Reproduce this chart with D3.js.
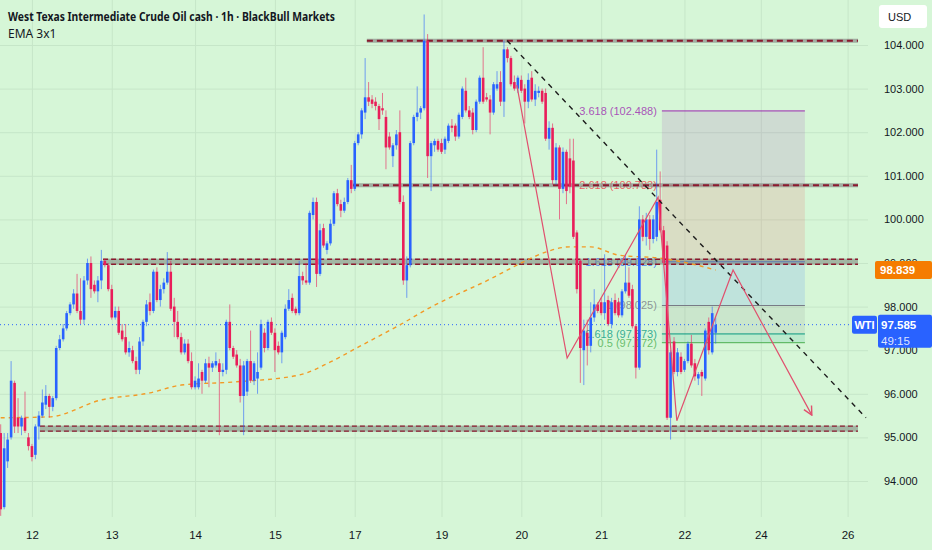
<!DOCTYPE html>
<html>
<head>
<meta charset="utf-8">
<script src="https://cdn.jsdelivr.net/npm/d3@7"></script>
<style>
html, body { margin: 0; padding: 0; background: #d6f6d7; }
svg { display: block; font-family: "Liberation Sans", Arial, sans-serif; }
</style>
</head>
<body>
<svg id="chart"></svg>
<script>
var width = 932;
var height = 550;
var plot = { left: 0, right: 868, top: 0, bottom: 517 };

// hourly candles, [open, high, low, close]
var candles = [
  [95.10,95.30,93.20,93.35],[93.40,95.10,93.35,94.75],[94.45,95.10,94.30,94.95],[95.00,96.75,94.95,96.30],
  [96.25,96.30,95.10,95.25],[95.45,95.90,95.10,95.25],[95.25,95.50,95.05,95.45],[95.45,96.05,95.10,95.15],
  [95.00,95.10,94.70,94.80],[94.80,94.85,94.45,94.55],[94.60,95.30,94.50,95.25],[95.25,95.60,94.95,95.50],
  [95.50,96.10,95.45,95.80],[95.75,96.20,95.65,95.95],[95.95,96.00,95.45,95.70],[95.70,95.95,95.60,95.90],
  [95.90,97.10,95.85,97.05],[97.05,97.35,97.00,97.25],[97.25,97.60,97.20,97.50],[97.50,97.90,97.45,97.85],
  [97.85,98.10,97.80,98.05],[98.05,98.40,97.95,98.30],[98.30,98.75,97.85,97.90],[97.90,98.65,97.60,97.70],
  [97.70,98.70,97.60,98.60],[98.60,99.10,98.50,99.00],[99.00,99.15,98.20,98.40],[98.50,98.60,98.30,98.35],
  [98.35,98.70,98.10,98.60],[98.60,99.30,98.40,99.05],[99.05,99.10,98.90,98.95],[98.95,99.00,98.35,98.40],
  [98.40,98.50,97.70,97.75],[97.75,98.00,97.70,97.90],[97.90,98.00,97.35,97.40],[97.45,97.60,97.20,97.25],
  [97.30,97.60,96.90,96.95],[96.95,97.20,96.85,97.05],[97.00,97.10,96.70,96.75],[96.75,96.85,96.45,96.55],
  [96.55,97.30,96.45,97.20],[97.20,97.70,97.10,97.65],[97.65,98.15,97.55,98.05],[98.10,98.30,97.80,97.90],
  [97.90,98.85,97.85,98.80],[98.80,98.90,98.10,98.15],[98.15,98.50,98.00,98.40],[98.40,98.65,98.30,98.55],
  [98.55,99.25,98.50,98.80],[98.80,99.05,97.90,97.95],[98.00,98.20,97.30,97.65],[97.65,97.90,97.25,97.30],
  [97.30,97.40,96.90,96.95],[96.95,97.25,96.90,97.15],[97.15,97.25,96.70,96.75],[96.75,96.95,96.10,96.15],
  [96.15,96.40,96.10,96.30],[96.15,96.70,96.10,96.35],[96.50,96.55,96.00,96.30],[96.30,96.80,96.25,96.70],
  [96.70,96.85,96.15,96.60],[96.60,96.75,96.50,96.70],[96.65,96.95,96.60,96.75],[96.70,96.80,95.05,96.50],
  [96.50,96.70,96.40,96.55],[96.55,97.70,96.45,97.65],[97.65,98.05,97.00,97.05],[97.05,97.10,96.80,96.85],
  [96.90,97.00,96.60,96.65],[96.65,96.80,95.80,95.95],[95.95,96.75,95.05,96.65],[96.05,96.80,95.95,96.75],
  [96.75,97.45,96.25,96.30],[96.30,96.75,96.20,96.70],[96.35,96.95,96.00,96.50],[96.60,97.70,96.55,97.60],
  [97.40,97.50,96.95,97.05],[97.05,97.70,97.00,97.65],[97.65,97.75,97.35,97.40],[97.40,97.50,96.50,97.00],
  [97.10,97.20,96.90,96.95],[96.95,97.45,96.70,97.40],[97.30,98.05,97.25,97.95],[97.95,98.40,97.90,98.15],
  [98.20,98.30,97.85,97.90],[97.95,98.00,97.80,97.85],[97.85,99.05,97.80,98.70],[98.70,98.80,98.50,98.60],
  [98.60,99.00,98.50,98.55],[98.55,100.20,98.50,100.15],[100.10,100.50,100.00,100.40],[100.40,100.50,98.45,98.75],
  [98.75,99.90,98.70,99.75],[99.80,99.90,99.35,99.40],[99.30,99.50,99.20,99.45],[99.45,100.00,99.40,99.90],
  [99.90,100.65,99.85,100.60],[100.60,100.70,100.30,100.35],[100.35,100.45,100.05,100.20],[100.20,100.50,100.15,100.40],
  [100.40,100.95,100.35,100.90],[100.90,101.25,100.60,100.70],[100.70,101.80,100.65,101.75],[101.75,102.00,101.70,101.95],
  [101.95,102.55,101.85,102.50],[102.45,103.70,102.30,102.80],[102.80,103.15,102.60,102.70],[102.75,102.85,102.55,102.65],
  [102.70,102.80,102.50,102.60],[102.60,102.65,102.05,102.30],[102.55,102.90,102.40,102.50],[102.35,102.50,101.15,101.65],
  [101.90,102.00,101.60,101.65],[101.45,101.75,101.20,101.70],[101.70,102.05,101.60,101.95],[102.00,102.50,100.35,100.40],
  [100.40,100.55,98.50,98.60],[98.60,99.15,98.20,98.95],[98.95,101.80,98.90,101.75],[101.75,102.40,101.70,102.35],
  [102.35,103.05,102.25,102.45],[102.45,102.60,102.30,102.55],[102.55,104.70,102.50,104.10],[104.10,104.25,100.95,101.45],
  [101.45,101.80,100.65,101.75],[101.70,101.85,101.55,101.80],[101.80,101.85,101.55,101.60],[101.75,101.85,101.50,101.55],
  [101.60,101.90,101.50,101.85],[101.80,102.20,101.75,102.15],[102.15,102.30,102.00,102.10],[102.15,102.20,101.80,101.90],
  [101.90,102.45,101.85,102.40],[102.35,103.05,102.30,103.00],[102.95,103.25,102.45,102.50],[102.50,102.60,102.30,102.35],
  [102.45,102.55,101.95,102.05],[102.05,102.75,102.00,102.70],[102.70,103.30,102.65,103.25],[103.25,103.95,102.65,102.70],
  [102.80,102.90,102.70,102.75],[102.75,102.85,101.95,102.45],[102.45,103.15,102.40,103.10],[103.00,103.40,102.95,103.10],
  [103.15,103.40,102.60,102.70],[102.70,104.10,102.35,103.90],[103.90,103.95,103.60,103.70],[103.70,103.75,103.05,103.10],
  [103.15,103.30,102.95,103.00],[103.00,103.30,102.90,103.25],[103.20,103.30,102.90,102.95],[103.00,103.10,102.20,102.70],
  [102.70,103.35,102.55,103.20],[103.25,103.40,102.70,102.75],[102.75,103.10,102.60,102.95],[102.90,103.05,102.80,102.95],
  [102.95,103.00,102.65,102.70],[102.90,103.00,101.80,101.85],[101.85,102.25,101.60,102.10],[102.10,102.20,100.80,100.90],
  [100.90,101.75,100.80,101.65],[101.65,101.70,100.00,100.70],[100.70,101.65,100.60,101.55],[101.55,101.60,100.35,100.65],
  [101.40,101.85,100.60,100.75],[101.35,101.85,99.55,99.60],[99.70,99.75,98.30,98.40],[99.05,99.10,96.25,97.05],
  [97.00,97.70,96.20,97.45],[97.40,97.70,96.65,97.10],[97.10,98.10,96.95,97.75],[97.75,98.40,97.65,98.05],
  [98.05,98.10,97.85,97.90],[98.10,98.20,97.80,97.85],[97.85,99.20,97.70,98.10],[98.15,98.25,97.55,97.60],
  [97.60,98.20,97.50,98.10],[98.15,98.30,97.80,97.85],[98.10,98.20,97.75,97.80],[97.80,98.40,97.75,98.35],
  [98.35,99.20,98.30,98.55],[98.55,98.90,98.20,98.25],[98.40,98.50,97.50,97.55],[97.55,97.60,96.35,96.60],
  [96.60,100.30,96.55,100.00],[100.00,100.10,99.50,99.60],[99.60,100.15,99.40,100.00],[100.00,100.10,99.30,99.55],
  [99.55,100.10,99.45,100.00],[99.60,101.60,99.50,100.40],[100.45,101.10,99.70,99.75],[99.75,99.85,98.95,99.00],
  [99.40,99.50,95.40,95.45],[95.45,97.00,94.95,96.95],[97.20,97.30,96.45,96.50],[96.50,97.05,96.40,96.95],
  [96.85,96.95,96.45,96.50],[96.55,96.80,96.50,96.75],[96.75,97.20,96.70,97.15],[97.15,97.35,96.60,96.65],
  [96.70,96.80,96.30,96.40],[96.35,96.50,96.20,96.45],[96.50,96.55,95.95,96.40],[96.35,97.50,96.30,97.45],
  [97.65,97.75,96.90,97.00],[96.95,98.00,96.90,97.85],[97.40,97.75,97.15,97.585]
];

var priceTicks = [94, 95, 96, 97, 98, 99, 100, 101, 102, 103, 104];
var dayTickBars = [9, 32, 56, 79, 102, 127, 150, 173, 197, 219, 244];
var dayTickLabels = ["12", "13", "14", "15", "17", "19", "20", "21", "22", "24", "26"];

// EMA line, [bar, price]
var emaPoints = [[0,95.45],[14,95.47],[29,95.86],[43,96.02],[52,96.20],[67,96.27],[86,96.43],
  [95,96.73],[103,97.07],[115,97.58],[124,97.99],[141,98.63],[150,99.00],[157,99.25],
  [164,99.37],[170,99.37],[178,99.18],[190,99.11],[199,98.98],[206,98.839]];

// horizontal levels: [price, first bar]
var levelLines = [[104.1, 105.5], [100.783, 101.5]];
var levelBands = [[99.03, 29.5], [95.2, 11.3]];
var levelEndBar = 247;

// fib extension
var fibRatios = [3.618, 2.618, 1.618, 1, 0.618, 0.5];
var fibPrices = [102.488, 100.783, 99.028, 98.025, 97.373, 97.172];
var fibColors = ["#9c27b0", "#f23645", "#2962ff", "#787b86", "#089981", "#4caf50"];
var fibStartBar = 190.5;
var fibEndBar = 231.7;

var trendLine = [[145.9, 104.1], [249.3, 95.45]];
var zigzag = [[148.7,103.08],[163.2,96.82],[189.4,100.51],[194.8,95.38],[211.0,98.84],[233.7,95.51]];

var lastPrice = 97.585;
var emaLast = 98.839;
var countdown = "49:15";

var upColor = "#2962ff";
var downColor = "#e91e5a";

var x = d3.scaleLinear().domain([-0.2, 247]).range([0, 858]);
var y = d3.scaleLinear().domain([93.174, 105.032]).range([plot.bottom, plot.top]);

var svg = d3.select("#chart").attr("width", width).attr("height", height);

svg.append("rect").attr("width", width).attr("height", height).attr("fill", "#d6f6d7");

var defs = svg.append("defs");
defs.append("clipPath").attr("id", "clip")
  .append("rect").attr("x", plot.left).attr("y", plot.top)
  .attr("width", plot.right - plot.left).attr("height", plot.bottom - plot.top);
defs.append("marker").attr("id", "arrow")
  .attr("viewBox", "0 0 10 10").attr("refX", 9).attr("refY", 5)
  .attr("markerWidth", 9).attr("markerHeight", 9).attr("orient", "auto")
  .append("path").attr("d", "M1,1 L9,5 L1,9")
  .attr("fill", "none").attr("stroke", "#e0506e").attr("stroke-width", 1.3);

// grid
svg.append("g")
  .call(d3.axisRight(y).tickValues(priceTicks).tickSize(plot.right).tickFormat(""))
  .call(function(g) { g.select(".domain").remove(); })
  .selectAll("line").attr("stroke", "#c6e6c8").attr("stroke-width", 1);
svg.append("g")
  .attr("transform", "translate(0," + plot.bottom + ")")
  .call(d3.axisTop(x).tickValues(dayTickBars).tickSize(plot.bottom).tickFormat(""))
  .call(function(g) { g.select(".domain").remove(); })
  .selectAll("line").attr("stroke", "#c6e6c8").attr("stroke-width", 1);

var chart = svg.append("g").attr("clip-path", "url(#clip)");

// fib extension box
var fx0 = x(fibStartBar), fx1 = x(fibEndBar);
for (var k = 0; k < fibPrices.length - 1; k++) {
  chart.append("rect")
    .attr("x", fx0).attr("width", fx1 - fx0)
    .attr("y", y(fibPrices[k])).attr("height", y(fibPrices[k + 1]) - y(fibPrices[k]))
    .attr("fill", fibColors[k]).attr("fill-opacity", 0.13);
}
fibPrices.forEach(function(p, k) {
  chart.append("line")
    .attr("x1", fx0).attr("x2", fx1).attr("y1", y(p)).attr("y2", y(p))
    .attr("stroke", fibColors[k]).attr("stroke-width", 1);
  chart.append("text")
    .attr("x", fx0 - 5).attr("y", y(p)).attr("dy", "0.35em")
    .attr("text-anchor", "end").attr("font-size", 11)
    .attr("fill", fibColors[k]).attr("fill-opacity", 0.8)
    .text(fibRatios[k] + " (" + p.toFixed(3) + ")");
});

// horizontal levels
levelBands.forEach(function(b) {
  var yy = y(b[0]);
  chart.append("rect").attr("x", x(b[1])).attr("width", x(levelEndBar) - x(b[1]))
    .attr("y", yy - 3).attr("height", 6).attr("fill", "#7f8c80").attr("fill-opacity", 0.6);
  [-2.5, 2.5].forEach(function(o) {
    chart.append("line").attr("x1", x(b[1])).attr("x2", x(levelEndBar))
      .attr("y1", yy + o).attr("y2", yy + o)
      .attr("stroke", "#8b1a2e").attr("stroke-width", 1.4).attr("stroke-dasharray", "5,3");
  });
});
levelLines.forEach(function(l) {
  var yy = y(l[0]);
  chart.append("line").attr("x1", x(l[1])).attr("x2", x(levelEndBar))
    .attr("y1", yy).attr("y2", yy)
    .attr("stroke", "#8a8f8a").attr("stroke-opacity", 0.7).attr("stroke-width", 4);
  chart.append("line").attr("x1", x(l[1])).attr("x2", x(levelEndBar))
    .attr("y1", yy).attr("y2", yy)
    .attr("stroke", "#8b1a2e").attr("stroke-width", 2).attr("stroke-dasharray", "6,4");
});

// last price dotted line
chart.append("line")
  .attr("x1", plot.left).attr("x2", plot.right)
  .attr("y1", y(lastPrice)).attr("y2", y(lastPrice))
  .attr("stroke", "#2962ff").attr("stroke-width", 1).attr("stroke-dasharray", "1,3");

// EMA
chart.append("path")
  .datum(emaPoints)
  .attr("d", d3.line().x(function(d) { return x(d[0]); }).y(function(d) { return y(d[1]); }).curve(d3.curveMonotoneX))
  .attr("fill", "none").attr("stroke", "#f29a26").attr("stroke-width", 1.4).attr("stroke-dasharray", "4,4");

// candles
var bodyW = 2.6;
var cg = chart.append("g");
cg.selectAll("line.wick").data(candles).enter().append("line")
  .attr("x1", function(d, i) { return x(i); })
  .attr("x2", function(d, i) { return x(i); })
  .attr("y1", function(d) { return y(d[1]); })
  .attr("y2", function(d) { return y(d[2]); })
  .attr("stroke", function(d) { return d[3] >= d[0] ? upColor : downColor; })
  .attr("stroke-opacity", 0.6).attr("stroke-width", 1);
cg.selectAll("rect.body").data(candles).enter().append("rect")
  .attr("x", function(d, i) { return x(i) - bodyW / 2; })
  .attr("width", bodyW)
  .attr("y", function(d) { return y(Math.max(d[0], d[3])); })
  .attr("height", function(d) { return Math.max(1, Math.abs(y(d[0]) - y(d[3]))); })
  .attr("fill", function(d) { return d[3] >= d[0] ? upColor : downColor; });

// trend line
chart.append("line")
  .attr("x1", x(trendLine[0][0])).attr("y1", y(trendLine[0][1]))
  .attr("x2", x(trendLine[1][0])).attr("y2", y(trendLine[1][1]))
  .attr("stroke", "#1c1c1c").attr("stroke-width", 1.4).attr("stroke-dasharray", "5,5");

// projected path
chart.append("path")
  .datum(zigzag)
  .attr("d", d3.line().x(function(d) { return x(d[0]); }).y(function(d) { return y(d[1]); }))
  .attr("fill", "none").attr("stroke", "#e0506e").attr("stroke-width", 1.2)
  .attr("marker-end", "url(#arrow)");

// price axis
var ya = svg.append("g").attr("transform", "translate(884,0)")
  .call(d3.axisRight(y).tickValues(priceTicks).tickSize(0).tickPadding(0).tickFormat(d3.format(".3f")));
ya.select(".domain").remove();
ya.selectAll("text").attr("font-size", 11).attr("fill", "#131722")
  .attr("font-family", "'Liberation Sans', Arial, sans-serif");

// time axis
var xa = svg.append("g").attr("transform", "translate(0," + plot.bottom + ")")
  .call(d3.axisBottom(x).tickValues(dayTickBars).tickSize(0).tickPadding(14)
    .tickFormat(function(d, i) { return dayTickLabels[i]; }));
xa.select(".domain").remove();
xa.selectAll("text").attr("font-size", 11.5).attr("fill", "#131722")
  .attr("font-family", "'Liberation Sans', Arial, sans-serif");

// USD box
svg.append("rect").attr("x", 879).attr("y", 5).attr("width", 48).attr("height", 23).attr("rx", 3).attr("fill", "#ffffff");
svg.append("text").attr("x", 888).attr("y", 21).attr("font-size", 11).attr("fill", "#131722").text("USD");

// EMA value label
var ey = y(emaLast);
svg.append("rect").attr("x", 875).attr("y", ey - 9).attr("width", 57).attr("height", 18).attr("rx", 2).attr("fill", "#f57c00");
svg.append("text").attr("x", 880).attr("y", ey).attr("dy", "0.35em").attr("font-size", 11.5)
  .attr("font-weight", "bold").attr("fill", "#ffffff").text(emaLast.toFixed(3));

// last price label
var py = y(lastPrice);
svg.append("rect").attr("x", 852).attr("y", py - 9).attr("width", 25).attr("height", 18).attr("rx", 2).attr("fill", "#2962ff");
svg.append("text").attr("x", 864.5).attr("y", py).attr("dy", "0.35em").attr("text-anchor", "middle")
  .attr("font-size", 11).attr("font-weight", "bold").attr("fill", "#ffffff").text("WTI");
svg.append("rect").attr("x", 878).attr("y", py - 10).attr("width", 54).attr("height", 33).attr("rx", 2).attr("fill", "#2962ff");
svg.append("text").attr("x", 881).attr("y", py).attr("dy", "0.35em").attr("font-size", 11.5)
  .attr("font-weight", "bold").attr("fill", "#ffffff").text(lastPrice.toFixed(3));
svg.append("text").attr("x", 881).attr("y", py + 16).attr("dy", "0.35em").attr("font-size", 11.5)
  .attr("fill", "#ffffff").attr("fill-opacity", 0.85).text(countdown);

// title
svg.append("text").attr("x", 8).attr("y", 21).attr("font-size", 12.5).attr("font-weight", "bold")
  .attr("fill", "#131722").attr("textLength", 327).attr("lengthAdjust", "spacingAndGlyphs")
  .attr("font-family", "'Noto Sans', sans-serif")
  .text("West Texas Intermediate Crude Oil cash · 1h · BlackBull Markets");
svg.append("text").attr("x", 8).attr("y", 38).attr("font-size", 12)
  .attr("fill", "#131722").attr("font-family", "'Noto Sans', sans-serif").text("EMA 3x1");
</script>
</body>
</html>
